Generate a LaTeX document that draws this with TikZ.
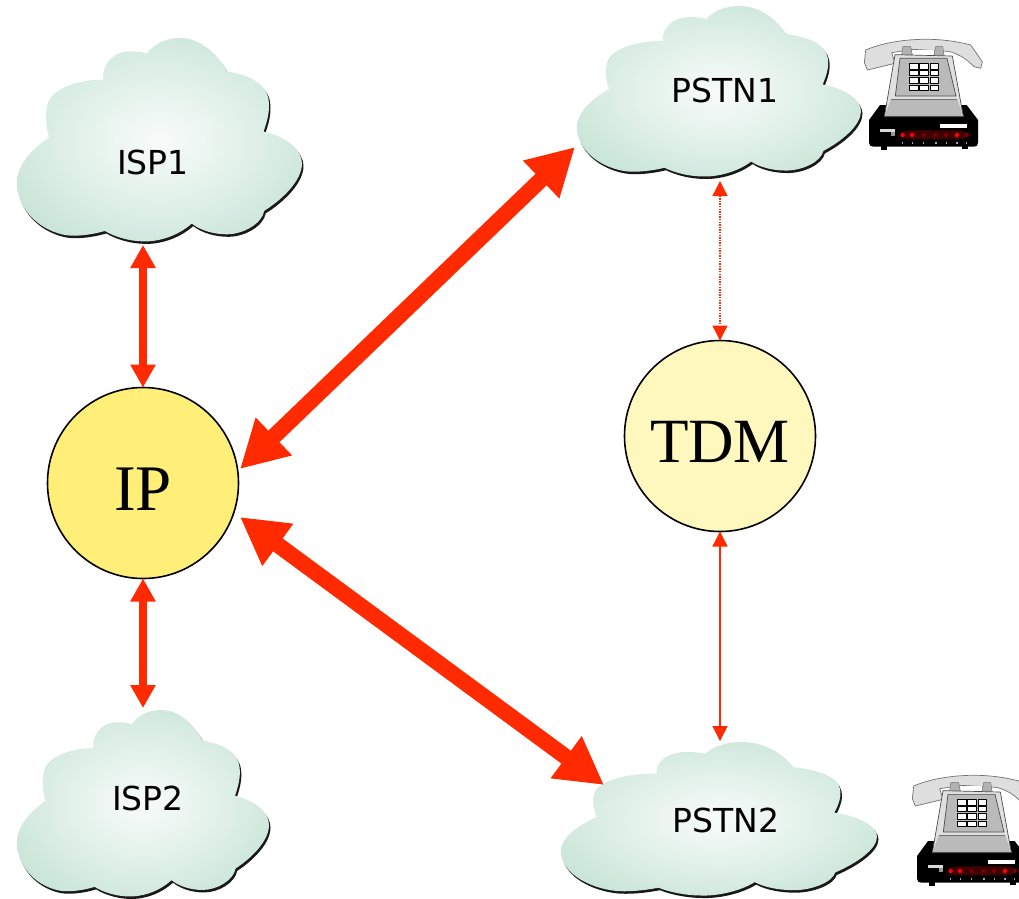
\documentclass[tikz,border=0pt]{standalone}
\usepackage{fontspec}
\setmainfont{DejaVu Sans}
\newfontfamily\serifcirc{Liberation Serif}
\usetikzlibrary{arrows.meta}
\definecolor{arrowred}{HTML}{FF2A00}
\definecolor{ipfill}{HTML}{FFEF78}
\definecolor{tdmfill}{HTML}{FFF8BE}
\definecolor{cloudin}{HTML}{F8FBFA}
\definecolor{cloudmid}{HTML}{E0F0E9}
\definecolor{cloudmidb}{HTML}{C8E4D6}
\definecolor{cloudout}{HTML}{A9D6C0}
\pgfdeclareradialshading{cloudshade}{\pgfpoint{0bp}{0bp}}{color(0bp)=(cloudin); color(16bp)=(cloudmid); color(30bp)=(cloudmidb); color(50bp)=(cloudout); color(72bp)=(cloudout)}
\newcommand{\cloudpath}{(310,180) .. controls (305,135) and (340,97) .. (385,95) .. controls (408,94) and (428,97) .. (440,102) .. controls (465,70) and (500,55) .. (540,55) .. controls (600,55) and (650,100) .. (680,155) .. controls (745,165) and (798,190) .. (805,240) .. controls (810,275) and (800,305) .. (790,335) .. controls (860,350) and (905,390) .. (905,430) .. controls (905,480) and (850,535) .. (792,572) .. controls (785,610) and (730,642) .. (680,642) .. controls (640,642) and (600,630) .. (575,610) .. controls (530,650) and (470,665) .. (430,663) .. controls (390,663) and (345,650) .. (315,632) .. controls (270,645) and (220,650) .. (190,643) .. controls (110,625) and (52,560) .. (52,490) .. controls (52,430) and (100,385) .. (148,352) .. controls (140,320) and (135,290) .. (143,255) .. controls (155,205) and (240,178) .. (310,180) -- cycle}
% #1 left, #2 top, #3 width, #4 height
\newcommand{\cloudat}[4]{%
  \begin{scope}[shift={(#1+1.5,#2+2.5)},xscale=#3/853,yscale=#4/610,shift={(-52,-55)}]
    \fill[black!90] \cloudpath;
  \end{scope}
  \begin{scope}[shift={(#1,#2)},xscale=#3/853,yscale=#4/610,shift={(-52,-55)}]
    \shade[shading=cloudshade] \cloudpath;
  \end{scope}}
% #1 dx, #2 dy : phone, coordinates in 3x units
\newcommand{\phoneat}[2]{%
  \begin{scope}[shift={(#1,#2)},scale=1/3,line join=round]
    % handset
    \draw[draw=black!55,fill=black!13,line width=.7pt] (47,90) .. controls (110,62) and (240,42) .. (362,75) -- (397,125) -- (392,145) -- (372,140) .. controls (345,112) and (320,100) .. (295,94) -- (190,88) -- (125,98) -- (135,130) -- (52,150) -- (43,128) -- cycle;
    \fill[white] (187,90) rectangle (252,104);
    % prongs
    \draw[draw=black!55,fill=black!30,line width=.5pt] (158,80) -- (182,80) -- (187,105) -- (155,105) -- cycle;
    \draw[draw=black!55,fill=black!30,line width=.5pt] (257,80) -- (278,80) -- (282,105) -- (252,105) -- cycle;
    % base
    \fill[black] (90,255) -- (350,255) -- (384,300) -- (384,368) .. controls (384,376) and (380,380) .. (372,380) -- (70,380) .. controls (62,380) and (57,376) .. (57,368) -- (57,300) -- cycle;
    \fill[black] (93,378) rectangle (110,390);
    \fill[black] (335,378) rectangle (353,387);
    % body
    \draw[draw=black!70,fill=black!12,line width=.7pt] (135,104) -- (307,108) -- (340,290) -- (103,290) -- cycle;
    \draw[draw=black!70,fill=black!27,line width=.7pt] (150,115) -- (291,115) -- (318,228) -- (136,228) -- cycle;
    \draw[draw=black!70,line width=.6pt] (122,238) -- (322,238);
    \fill[black!27] (122,239) -- (322,239) -- (340,290) -- (103,290) -- cycle;
    \draw[draw=black!70,line width=.7pt] (103,290) -- (340,290);
    % keys
    \foreach \kx/\kw in {178/26,208/28,240/26}
      \foreach \ky/\kh in {130/18,151/16,173/17,195/17}
        \draw[draw=black,fill=white,line width=.9pt] (\kx,\ky) rectangle ++(\kw,\kh);
    % display and labels
    \fill[white] (270,312) rectangle (352,325);
    \fill[black!15] (90,326) rectangle (135,335);
    \fill[black!40] (122,335) rectangle (135,347);
    % LED strip
    \fill[red!25!black,rounded corners=10pt] (145,331) rectangle (360,358);
    \foreach \lx in {158,186,321}
      \fill[red] (\lx,345) circle (6.5);
    \foreach \lx in {221,256,288,350}
      \fill[red!50!black] (\lx,345) circle (6);
    \foreach \lx in {158,187,221,258,290,321,350}
      \fill[black!35] (\lx-2,365) rectangle (\lx+2,372);
  \end{scope}}
\tikzset{
  hub/.style={circle,draw=black,line width=1.6pt,minimum size=191pt,inner sep=0pt,outer sep=0pt},
  cloudlabel/.style={inner sep=0pt,font=\fontsize{33}{36}\selectfont},
  heavylink/.style={draw=arrowred,line width=16pt,{Triangle[length=47pt,width=49pt]}-{Triangle[length=47pt,width=49pt]}},
  midlink/.style={draw=arrowred,line width=8pt,{Triangle[length=23pt,width=24pt]}-{Triangle[length=23pt,width=24pt]}},
  thinlink/.style={draw=arrowred,line width=1.4pt,{Triangle[length=15pt,width=15pt]}-{Triangle[length=15pt,width=15pt]}},
  dotlink/.style={thinlink,dash pattern=on 1.4pt off 1.2pt}
}
\begin{document}
\begin{tikzpicture}[x=1pt,y=-1pt]
\useasboundingbox (0,0) rectangle (1019,898);
\fill[white] (0,0) rectangle (1019,898);
\cloudat{17}{38}{285}{204}
\cloudat{577}{6}{284}{171}
\cloudat{17}{710}{252}{187}
\cloudat{561}{742}{316}{154}
\phoneat{850}{20}
\phoneat{898}{756}
\node[cloudlabel] (ISP1) at (153,162) {ISP1};
\node[cloudlabel] (PSTN1) at (725,90) {PSTN1};
\node[cloudlabel] (ISP2) at (148,798) {ISP2};
\node[cloudlabel] (PSTN2) at (726,820) {PSTN2};
\node[hub,fill=ipfill,font=\serifcirc\fontsize{65}{70}\selectfont] (IP) at (143,483) {\raisebox{-27pt}[0pt][0pt]{IP}};
\node[hub,fill=tdmfill,font=\serifcirc\fontsize{63}{70}\selectfont] (TDM) at (720,436) {\raisebox{-26pt}[0pt][0pt]{TDM}};
\coordinate (isp1port) at (143,245);
\coordinate (isp2port) at (143,708);
\coordinate (pstn1w) at (575,147);
\coordinate (pstn1s) at (720,181);
\coordinate (pstn2w) at (604,785);
\coordinate (pstn2n) at (720,741);
\coordinate (ipne) at (240,469);
\coordinate (ipse) at (240,517);
\draw[midlink] (isp1port) -- (IP.north);
\draw[midlink] (IP.south) -- (isp2port);
\draw[heavylink] (ipne) -- (pstn1w);
\draw[heavylink] (ipse) -- (pstn2w);
\draw[dotlink] (pstn1s) -- (TDM.north);
\draw[thinlink] (TDM.south) -- (pstn2n);
\end{tikzpicture}
\end{document}
